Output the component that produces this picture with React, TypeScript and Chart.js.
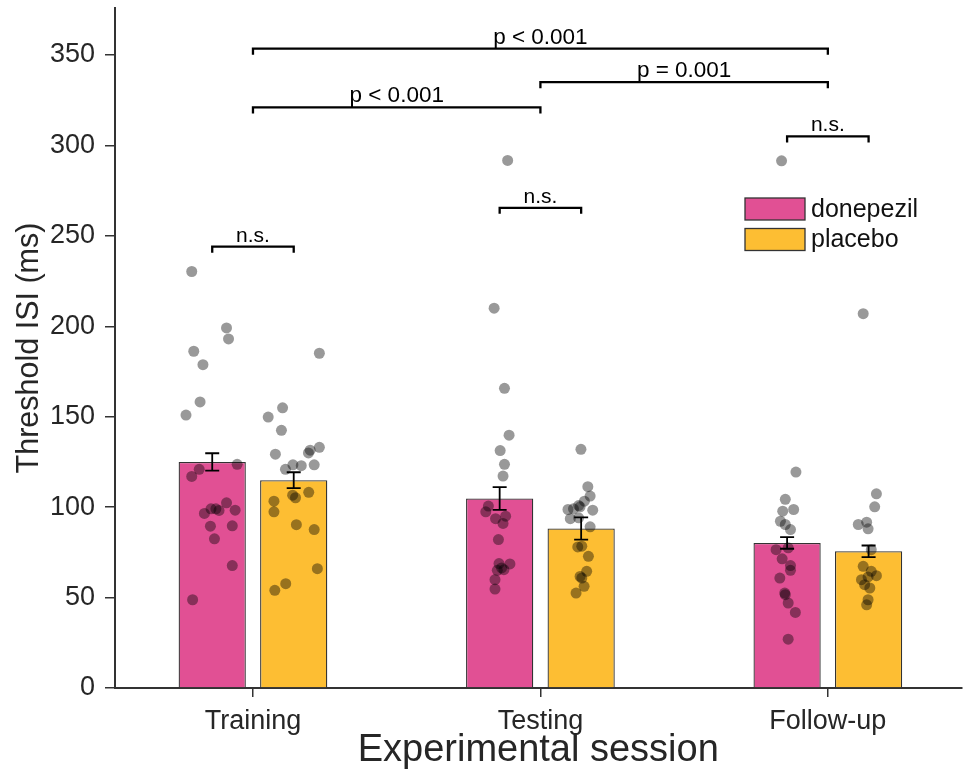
import React, { useEffect, useRef } from "react";
import { Chart, registerables } from "chart.js";

Chart.register(...registerables);

const FONT = "'Liberation Sans', Arial, Helvetica, sans-serif";
const TEXT = "#262626";
const AXIS = "#333333";
const PINK = "#E15094";
const YELLOW = "#FDBE33";
const DOT = "rgba(0,0,0,0.4)";

// ---- data ----
const categories = ["Training", "Testing", "Follow-up"];
const seriesNames = ["donepezil", "placebo"];
const donepezilMean = [125.0, 104.8, 80.2];
const placeboMean = [114.9, 88.2, 75.6];
const donepezilSE = [4.8, 6.3, 3.2];
const placeboSE = [4.4, 6.2, 3.2];
const yTicks = [0, 50, 100, 150, 200, 250, 300, 350];

// individual participants (value, horizontal jitter in category units relative to session centre)
const donTrainY = [230.3, 199.1, 193.0, 186.2, 178.8, 158.2, 150.9, 123.7, 120.9, 117.0, 102.4, 96.5, 99.1, 99.1, 98.2, 98.3, 89.5, 89.7, 82.5, 67.7, 48.8];
const donTrainJ = [-0.213, -0.092, -0.085, -0.206, -0.174, -0.184, -0.233, -0.055, -0.187, -0.213, -0.092, -0.169, -0.146, -0.129, -0.118, -0.062, -0.148, -0.072, -0.134, -0.072, -0.21];
const plaTrainY = [185.1, 154.9, 149.8, 142.5, 129.3, 131.5, 133.1, 130.0, 123.4, 120.9, 123.4, 122.9, 106.6, 105.2, 108.2, 103.3, 97.4, 90.3, 87.6, 66.0, 57.7, 54.0];
const plaTrainJ = [0.231, 0.103, 0.053, 0.099, 0.078, 0.199, 0.231, 0.193, 0.213, 0.113, 0.139, 0.168, 0.138, 0.148, 0.194, 0.073, 0.073, 0.151, 0.213, 0.224, 0.114, 0.076];
const donTestY = [291.7, 210.0, 165.7, 139.8, 131.3, 123.7, 117.2, 100.6, 97.4, 95.0, 93.6, 91.0, 82.1, 68.8, 68.6, 65.4, 65.1, 59.9, 54.7, 66.4];
const donTestJ = [-0.114, -0.161, -0.125, -0.109, -0.14, -0.125, -0.13, -0.181, -0.19, -0.121, -0.156, -0.13, -0.146, -0.144, -0.106, -0.127, -0.15, -0.158, -0.158, -0.135];
const plaTestY = [132.0, 111.3, 106.1, 103.3, 100.9, 99.1, 98.7, 98.3, 100.2, 93.6, 94.1, 89.1, 78.0, 78.4, 72.8, 64.5, 61.7, 60.8, 56.2, 52.5];
const plaTestJ = [0.141, 0.165, 0.173, 0.153, 0.133, 0.115, 0.096, 0.182, 0.138, 0.104, 0.133, 0.173, 0.13, 0.144, 0.167, 0.161, 0.138, 0.144, 0.152, 0.124];
const donFollowY = [291.5, 119.4, 104.3, 98.7, 97.8, 92.2, 90.4, 87.6, 76.5, 71.4, 67.7, 65.1, 60.8, 52.5, 51.6, 47.0, 41.8, 27.0, 77.5];
const donFollowJ = [-0.161, -0.111, -0.148, -0.119, -0.157, -0.165, -0.148, -0.13, -0.18, -0.159, -0.13, -0.13, -0.167, -0.15, -0.148, -0.138, -0.113, -0.138, -0.138];
const plaFollowY = [207.0, 107.4, 100.2, 90.4, 91.7, 88.0, 76.5, 67.3, 64.5, 62.1, 61.4, 59.9, 57.1, 55.3, 48.8, 46.0];
const plaFollowJ = [0.123, 0.169, 0.163, 0.106, 0.135, 0.14, 0.151, 0.123, 0.151, 0.169, 0.14, 0.117, 0.128, 0.146, 0.14, 0.135];

// significance brackets
const sigLabels = ["n.s.", "n.s.", "n.s.", "p < 0.001", "p = 0.001", "p < 0.001"];
const sigLevel = [244, 265.5, 305, 321, 335, 353.5];
const sigFrom = [0, 1, 2, 0, 1, 0];
const sigTo = [0, 1, 2, 1, 2, 2];
const sigWithinSession = [true, true, true, false, false, false];

const donepezilPoints = [
  ...donTrainY.map((y, k) => ({ x: 0 + donTrainJ[k], y })),
  ...donTestY.map((y, k) => ({ x: 1 + donTestJ[k], y })),
  ...donFollowY.map((y, k) => ({ x: 2 + donFollowJ[k], y })),
];
const placeboPoints = [
  ...plaTrainY.map((y, k) => ({ x: 0 + plaTrainJ[k], y })),
  ...plaTestY.map((y, k) => ({ x: 1 + plaTestJ[k], y })),
  ...plaFollowY.map((y, k) => ({ x: 2 + plaFollowJ[k], y })),
];

const seList = [donepezilSE, placeboSE];
const meanList = [donepezilMean, placeboMean];

const overlayPlugin = {
  id: "overlay",
  afterDatasetDraw(chart: any, args: any) {
    const idx = args.index;
    if (idx !== 0 && idx !== 1) return;
    const ctx = chart.ctx;
    const yS = chart.scales.y;
    const meta = chart.getDatasetMeta(idx);
    ctx.save();
    ctx.strokeStyle = "#000";
    ctx.lineWidth = 1.8;
    meta.data.forEach((el: any, i: number) => {
      const m = meanList[idx][i];
      const se = seList[idx][i];
      const top = yS.getPixelForValue(m + se);
      const bot = yS.getPixelForValue(m - se);
      ctx.beginPath();
      ctx.moveTo(el.x, top);
      ctx.lineTo(el.x, bot);
      ctx.moveTo(el.x - 7, top);
      ctx.lineTo(el.x + 7, top);
      ctx.moveTo(el.x - 7, bot);
      ctx.lineTo(el.x + 7, bot);
      ctx.stroke();
    });
    ctx.restore();
  },
  afterDraw(chart: any) {
    const ctx = chart.ctx;
    const xS = chart.scales.x;
    const yS = chart.scales.y;
    const m0 = chart.getDatasetMeta(0);
    const m1 = chart.getDatasetMeta(1);
    ctx.save();
    // brackets
    ctx.strokeStyle = "#000";
    ctx.lineWidth = 2.3;
    ctx.fillStyle = "#000";
    ctx.textAlign = "center";
    ctx.textBaseline = "alphabetic";
    sigLabels.forEach((lab, k) => {
      let x1, x2;
      if (sigWithinSession[k]) {
        x1 = m0.data[sigFrom[k]].x;
        x2 = m1.data[sigTo[k]].x;
      } else {
        x1 = xS.getPixelForValue(sigFrom[k]);
        x2 = xS.getPixelForValue(sigTo[k]);
      }
      const y = yS.getPixelForValue(sigLevel[k]);
      ctx.beginPath();
      ctx.moveTo(x1, y + 6);
      ctx.lineTo(x1, y);
      ctx.lineTo(x2, y);
      ctx.lineTo(x2, y + 6);
      ctx.stroke();
      ctx.font = `${sigWithinSession[k] ? 21 : 22.5}px ${FONT}`;
      ctx.fillText(lab, (x1 + x2) / 2, y - 5);
    });
    // legend
    const ds = chart.data.datasets;
    const boxX = 745, boxW = 60, boxH = 22, rowY0 = 198, rowStep = 30.5;
    ctx.font = `25px ${FONT}`;
    ctx.textAlign = "left";
    ctx.textBaseline = "middle";
    [0, 1].forEach((i) => {
      const y = rowY0 + i * rowStep;
      ctx.fillStyle = ds[i].backgroundColor;
      ctx.fillRect(boxX, y, boxW, boxH);
      ctx.strokeStyle = AXIS;
      ctx.lineWidth = 1.3;
      ctx.strokeRect(boxX, y, boxW, boxH);
      ctx.fillStyle = "#111";
      ctx.fillText(ds[i].label, boxX + boxW + 6, y + boxH / 2 + 1);
    });
    ctx.restore();
  },
};

export default function App() {
  const ref = useRef<HTMLCanvasElement | null>(null);
  useEffect(() => {
    if (!ref.current) return;
    const chart = new Chart(ref.current, {
      data: {
        datasets: [
          {
            type: "bar",
            label: seriesNames[0],
            data: categories.map((_, i) => ({ x: i, y: donepezilMean[i] })),
            backgroundColor: PINK,
            borderColor: AXIS,
            borderWidth: 1.3,
            categoryPercentage: 0.567,
            barPercentage: 0.825,
            order: 1,
          },
          {
            type: "bar",
            label: seriesNames[1],
            data: categories.map((_, i) => ({ x: i, y: placeboMean[i] })),
            backgroundColor: YELLOW,
            borderColor: AXIS,
            borderWidth: 1.3,
            categoryPercentage: 0.567,
            barPercentage: 0.825,
            order: 1,
          },
          {
            type: "scatter",
            label: seriesNames[0] + " participants",
            data: donepezilPoints,
            backgroundColor: DOT,
            borderWidth: 0,
            pointRadius: 5.5,
            order: 0,
          },
          {
            type: "scatter",
            label: seriesNames[1] + " participants",
            data: placeboPoints,
            backgroundColor: DOT,
            borderWidth: 0,
            pointRadius: 5.5,
            order: 0,
          },
        ],
      } as any,
      options: {
        responsive: false,
        animation: false,
        devicePixelRatio: 1,
        layout: { padding: { top: 8, left: 0, right: 0, bottom: 0 } },
        plugins: { legend: { display: false }, tooltip: { enabled: false } },
        scales: {
          x: {
            type: "linear",
            offset: false,
            min: -0.48,
            max: 2.465,
            afterBuildTicks: (s: any) => {
              s.ticks = categories.map((_, i) => ({ value: i }));
            },
            afterFit: (s: any) => {
              s.height = 87;
              s.paddingLeft = 0;
              s.paddingRight = 0;
            },
            ticks: {
              callback: (v: any) => categories[Math.round(Number(v))],
              font: { size: 27, family: FONT },
              color: TEXT,
              padding: 8,
              maxRotation: 0,
              autoSkip: false,
            },
            grid: { offset: false, drawOnChartArea: false, drawTicks: true, tickLength: 9, color: AXIS, lineWidth: 1.5 },
            border: { display: true, color: AXIS, width: 2 },
            title: {
              display: true,
              text: "Experimental session",
              font: { size: 38, family: FONT },
              color: TEXT,
              padding: { top: 0, bottom: 2 },
            },
          },
          y: {
            type: "linear",
            min: 0,
            max: 376,
            afterBuildTicks: (s: any) => {
              s.ticks = yTicks.map((v) => ({ value: v }));
            },
            afterFit: (s: any) => {
              s.width = 115;
              s.paddingTop = 0;
              s.paddingBottom = 0;
            },
            ticks: { font: { size: 27, family: FONT }, color: TEXT, padding: 10 },
            grid: { drawOnChartArea: false, drawTicks: true, tickLength: 10, color: AXIS, lineWidth: 1.5 },
            border: { display: true, color: AXIS, width: 2 },
            title: {
              display: true,
              text: "Threshold ISI (ms)",
              font: { size: 30.5, family: FONT },
              color: TEXT,
              padding: { top: 11, bottom: 0 },
            },
          },
        },
      } as any,
      plugins: [overlayPlugin as any],
    });
    return () => chart.destroy();
  }, []);
  return (
    <div style={{ position: "absolute", left: 0, top: 0, width: 967, height: 775, background: "#fff" }}>
      <canvas ref={ref} width={967} height={775} style={{ display: "block" }} />
    </div>
  );
}
